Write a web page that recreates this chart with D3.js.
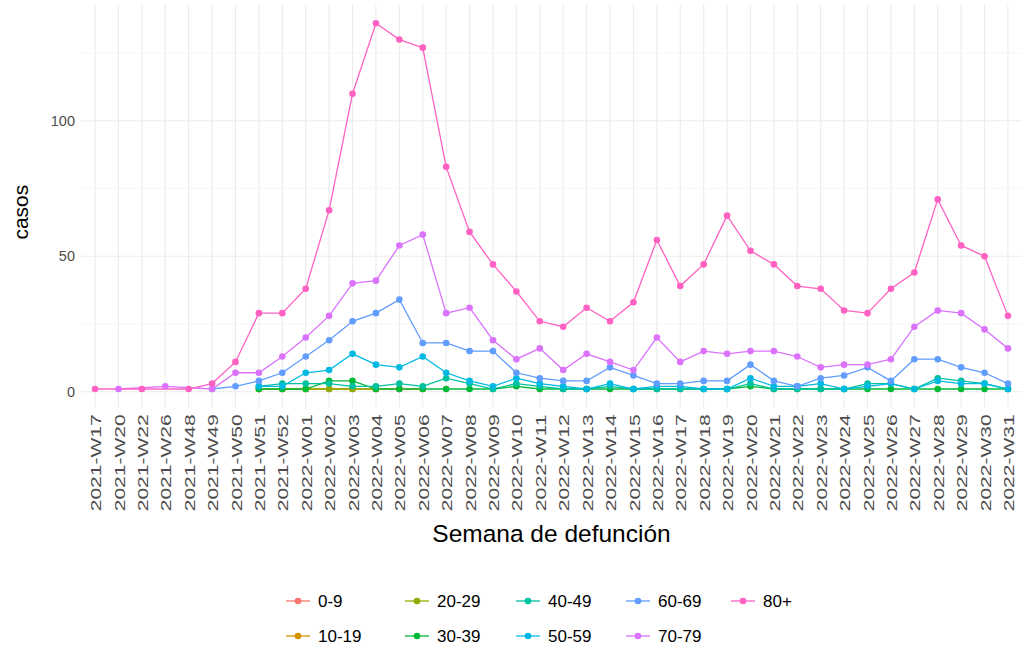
<!DOCTYPE html>
<html>
<head>
<meta charset="utf-8">
<script src="https://cdn.jsdelivr.net/npm/d3@7"></script>
<style>
  html, body { margin: 0; padding: 0; background: #ffffff; }
  svg { display: block; font-family: "Liberation Sans", Arial, sans-serif; }
</style>
</head>
<body>
<svg id="chart" width="1029" height="652"></svg>
<script>
const weeks = ["2021-W17","2021-W20","2021-W22","2021-W26","2021-W48","2021-W49","2021-W50","2021-W51","2021-W52",
  "2022-W01","2022-W02","2022-W03","2022-W04","2022-W05","2022-W06","2022-W07","2022-W08","2022-W09","2022-W10",
  "2022-W11","2022-W12","2022-W13","2022-W14","2022-W15","2022-W16","2022-W17","2022-W18","2022-W19","2022-W20",
  "2022-W21","2022-W22","2022-W23","2022-W24","2022-W25","2022-W26","2022-W27","2022-W28","2022-W29","2022-W30","2022-W31"];

const groups = ["0-9","10-19","20-29","30-39","40-49","50-59","60-69","70-79","80+"];
const colors = ["#F8766D","#D39200","#93AA00","#00BA38","#00C19F","#00B9E3","#619CFF","#DB72FB","#FF61C3"];

const _ = null;
const v0_9   = [_,_,_,_,_,_,_,_,_,_,_,_,_,1,_,_,_,_,_,_,_,_,_,_,_,_,_,_,_,_,_,_,_,_,_,_,_,_,_,_];
const v10_19 = [_,_,_,_,_,_,_,1,1,1,1,1,1,1,1,_,_,_,_,_,_,_,_,_,_,_,_,_,_,_,_,_,_,_,_,_,_,_,_,_];
const v20_29 = [_,_,_,_,_,_,_,1,1,1,1,1,1,_,_,_,_,_,_,_,_,_,_,_,_,_,_,_,_,_,_,_,_,_,_,_,_,_,_,_];
const v30_39 = [_,_,_,_,_,_,_,1,1,1,4,4,1,1,1,1,1,1,2,1,1,1,1,1,1,1,1,1,2,1,1,1,1,1,1,1,1,1,1,1];
const v40_49 = [_,_,_,_,_,_,_,2,3,3,3,2,2,3,2,5,3,1,3,2,1,1,2,1,1,1,1,1,3,1,1,1,1,3,3,1,5,4,3,1];
const v50_59 = [_,_,_,_,_,_,_,2,2,7,8,14,10,9,13,7,4,2,5,3,2,1,3,1,2,2,1,1,5,2,2,3,1,2,3,1,4,3,3,1];
const v60_69 = [_,_,_,_,_,1,2,4,7,13,19,26,29,34,18,18,15,15,7,5,4,4,9,6,3,3,4,4,10,4,2,5,6,9,4,12,12,9,7,3];
const v70_79 = [_,1,_,2,_,1,7,7,13,20,28,40,41,54,58,29,31,19,12,16,8,14,11,8,20,11,15,14,15,15,13,9,10,10,12,24,30,29,23,16];
const v80p   = [1,_,1,_,1,3,11,29,29,38,67,110,136,130,127,83,59,47,37,26,24,31,26,33,56,39,47,65,52,47,39,38,30,29,38,44,71,54,50,28];

const seriesValues = [v0_9, v10_19, v20_29, v30_39, v40_49, v50_59, v60_69, v70_79, v80p];
const yTicks = [0, 50, 100];
const yMinor = [25, 75, 125];

const series = groups.map((g, i) => ({
  name: g, color: colors[i],
  points: weeks.map((w, j) => ({ week: w, value: seriesValues[i][j] })).filter(d => d.value !== null)
}));

const svg = d3.select("#chart");
const pL = 81, pR = 1022, pT = 5, pB = 407.3;

const x = d3.scalePoint().domain(weeks).range([pL, pR]).padding(0.6);
const yMin = 1, yMax = 136, ex = (yMax - yMin) * 0.05;
const y = d3.scaleLinear().domain([yMin - ex, yMax + ex]).range([pB, pT]);

// grid
const grid = svg.append("g");
grid.selectAll(".ymin").data(yMinor).join("line")
  .attr("x1", pL).attr("x2", pR).attr("y1", d => y(d)).attr("y2", d => y(d))
  .attr("stroke", "#F0F0F0").attr("stroke-width", 0.6);
grid.selectAll(".ymaj").data(yTicks).join("line")
  .attr("x1", pL).attr("x2", pR).attr("y1", d => y(d)).attr("y2", d => y(d))
  .attr("stroke", "#EBEBEB").attr("stroke-width", 1.1);
grid.selectAll(".xmaj").data(weeks).join("line")
  .attr("x1", d => x(d)).attr("x2", d => x(d)).attr("y1", pT).attr("y2", pB)
  .attr("stroke", "#EBEBEB").attr("stroke-width", 1.1);

// y axis labels
const yAxis = svg.append("g").attr("transform", `translate(${pL - 6},0)`)
  .call(d3.axisLeft(y).tickValues(yTicks).tickSize(0).tickPadding(0));
yAxis.select(".domain").remove();
yAxis.selectAll("text").attr("fill", "#4D4D4D").attr("font-size", 14.5)
  .attr("font-family", "Liberation Sans, Arial, sans-serif");

// x axis labels
const xAxis = svg.append("g").attr("transform", `translate(0,${pB + 7})`)
  .call(d3.axisBottom(x).tickSize(0).tickPadding(0));
xAxis.select(".domain").remove();
xAxis.selectAll("text")
  .attr("fill", "#4D4D4D").attr("font-size", 15.5)
  .attr("font-family", "Liberation Sans, Arial, sans-serif")
  .attr("text-anchor", "end")
  .attr("textLength", 97).attr("lengthAdjust", "spacingAndGlyphs")
  .attr("transform", "rotate(-90)")
  .attr("x", 0).attr("y", 0).attr("dy", "0.36em");

// titles
svg.append("text").attr("x", (pL + pR) / 2).attr("y", 542)
  .attr("text-anchor", "middle").attr("font-size", 24.5).attr("fill", "#000")
  .text("Semana de defunción");
svg.append("text").attr("transform", `translate(28,${(pT + pB) / 2 + 6}) rotate(-90)`)
  .attr("text-anchor", "middle").attr("font-size", 21).attr("fill", "#000")
  .text("casos");

// lines
const line = d3.line().x(d => x(d.week)).y(d => y(d.value));
svg.append("g").selectAll("path").data(series).join("path")
  .attr("d", d => line(d.points)).attr("fill", "none")
  .attr("stroke", d => d.color).attr("stroke-width", 1.3);

// points
const pts = svg.append("g");
series.forEach(s => {
  pts.append("g").selectAll("circle").data(s.points).join("circle")
    .attr("cx", d => x(d.week)).attr("cy", d => y(d.value)).attr("r", 3.3)
    .attr("fill", s.color);
});

// legend
const legendCols = [298, 417, 528, 638, 743];
const legendRows = [601, 636];
const leg = svg.append("g");
groups.forEach((g, i) => {
  const col = Math.floor(i / 2), row = i % 2;
  const cx = legendCols[col], cy = legendRows[row];
  const item = leg.append("g");
  item.append("line").attr("x1", cx - 12).attr("x2", cx + 12).attr("y1", cy).attr("y2", cy)
    .attr("stroke", colors[i]).attr("stroke-width", 1.3);
  item.append("circle").attr("cx", cx).attr("cy", cy).attr("r", 3.3).attr("fill", colors[i]);
  item.append("text").attr("x", cx + 20).attr("y", cy).attr("dy", "0.36em")
    .attr("font-size", 17).attr("fill", "#000").text(g);
});
</script>
</body>
</html>
